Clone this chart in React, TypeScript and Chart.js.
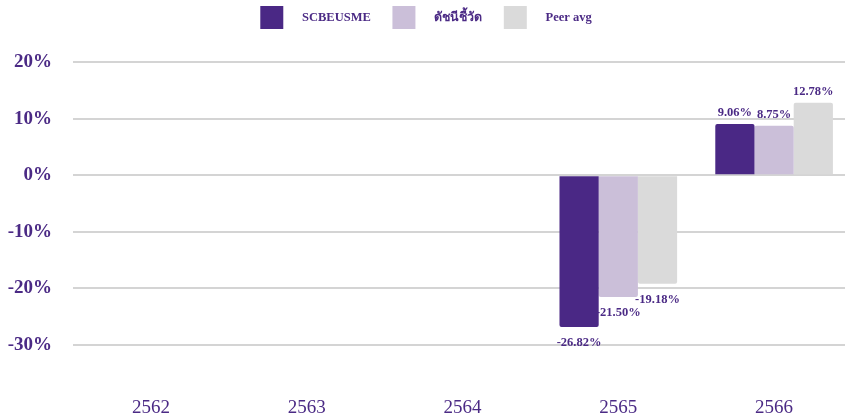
import React, { useEffect, useRef } from 'react';
import { Chart, registerables } from 'chart.js';

Chart.register(...registerables);

const years = ['2562', '2563', '2564', '2565', '2566'];
const fundReturns = [null, null, null, -26.82, 9.06];
const benchmarkReturns = [null, null, null, -21.5, 8.75];
const peerAvgReturns = [null, null, null, -19.18, 12.78];
const seriesNames = ['SCBEUSME', 'ดัชนีชี้วัด', 'Peer avg'];
const yTickValues = [-30, -20, -10, 0, 10, 20];

const PURPLE = '#4b2a85';
const SERIF = '"Liberation Serif", "Times New Roman", serif';

const valueLabels = {
  id: 'valueLabels',
  afterDatasetsDraw(chart: any) {
    const ctx = chart.ctx;
    ctx.save();
    ctx.font = `bold 12.5px ${SERIF}`;
    ctx.fillStyle = PURPLE;
    ctx.textAlign = 'center';
    ctx.textBaseline = 'middle';
    chart.data.datasets.forEach((ds: any, di: number) => {
      const meta = chart.getDatasetMeta(di);
      meta.data.forEach((el: any, i: number) => {
        const v = ds.data[i];
        if (v == null) return;
        const { x, y } = el.getProps(['x', 'y'], true);
        const yy = v >= 0 ? y - 11 : y + 16;
        ctx.fillText(v.toFixed(2) + '%', x, yy);
      });
    });
    ctx.restore();
  },
};

const fixedLegendHeight = {
  id: 'fixedLegendHeight',
  beforeLayout(chart: any) {
    const lg = chart.legend;
    if (lg && !lg._patched) {
      const orig = lg.fit;
      lg.fit = function () {
        orig.call(this);
        this.height = 62;
      };
      lg._patched = true;
    }
  },
};

export default function App() {
  const canvasRef = useRef<HTMLCanvasElement | null>(null);

  useEffect(() => {
    document.body.style.margin = '0';
    const canvas = canvasRef.current;
    if (!canvas) return;
    const chart = new Chart(canvas, {
      type: 'bar',
      data: {
        labels: years,
        datasets: [
          { label: seriesNames[0], data: fundReturns, backgroundColor: '#4a2885' },
          { label: seriesNames[1], data: benchmarkReturns, backgroundColor: '#cbbfd9' },
          { label: seriesNames[2], data: peerAvgReturns, backgroundColor: '#dadada' },
        ].map((d) => ({ ...d, borderRadius: 2, categoryPercentage: 0.755, barPercentage: 1 })),
      },
      options: {
        animation: false,
        responsive: true,
        maintainAspectRatio: false,
        layout: { padding: 0 },
        plugins: {
          tooltip: { enabled: false },
          legend: {
            position: 'top',
            labels: {
              boxWidth: 23,
              boxHeight: 23,
              padding: 6,
              color: PURPLE,
              font: { family: SERIF, size: 12.5, weight: 'bold' },
              generateLabels: (c: any) => {
                const items = (Chart.defaults.plugins.legend.labels as any).generateLabels(c);
                return items.map((it: any, i: number) => ({
                  ...it,
                  text: '    ' + it.text + (i < items.length - 1 ? '     ' : ''),
                }));
              },
            },
          },
        },
        scales: {
          x: {
            grid: { display: false, drawTicks: false },
            border: { display: false },
            ticks: {
              color: PURPLE,
              font: { family: SERIF, size: 19 },
              padding: 52,
              maxRotation: 0,
              autoSkip: false,
            },
            afterFit: (s: any) => {
              s.height = 74;
            },
          },
          y: {
            min: -30,
            max: 20,
            afterBuildTicks: (s: any) => {
              s.ticks = yTickValues.map((v) => ({ value: v }));
            },
            ticks: {
              callback: (v: any) => v + '%',
              color: PURPLE,
              font: { family: SERIF, size: 19, weight: 'bold' },
              padding: 21,
            },
            grid: { color: '#d4d4d4', lineWidth: 2, drawTicks: false },
            border: { display: false },
            afterFit: (s: any) => {
              s.width = 73;
            },
          },
        },
      } as any,
      plugins: [valueLabels, fixedLegendHeight],
    });
    return () => chart.destroy();
  }, []);

  return (
    <div style={{ position: 'relative', width: 845, height: 419, overflow: 'hidden' }}>
      <div style={{ position: 'relative', width: 852, height: 419 }}>
        <canvas ref={canvasRef} />
      </div>
    </div>
  );
}
